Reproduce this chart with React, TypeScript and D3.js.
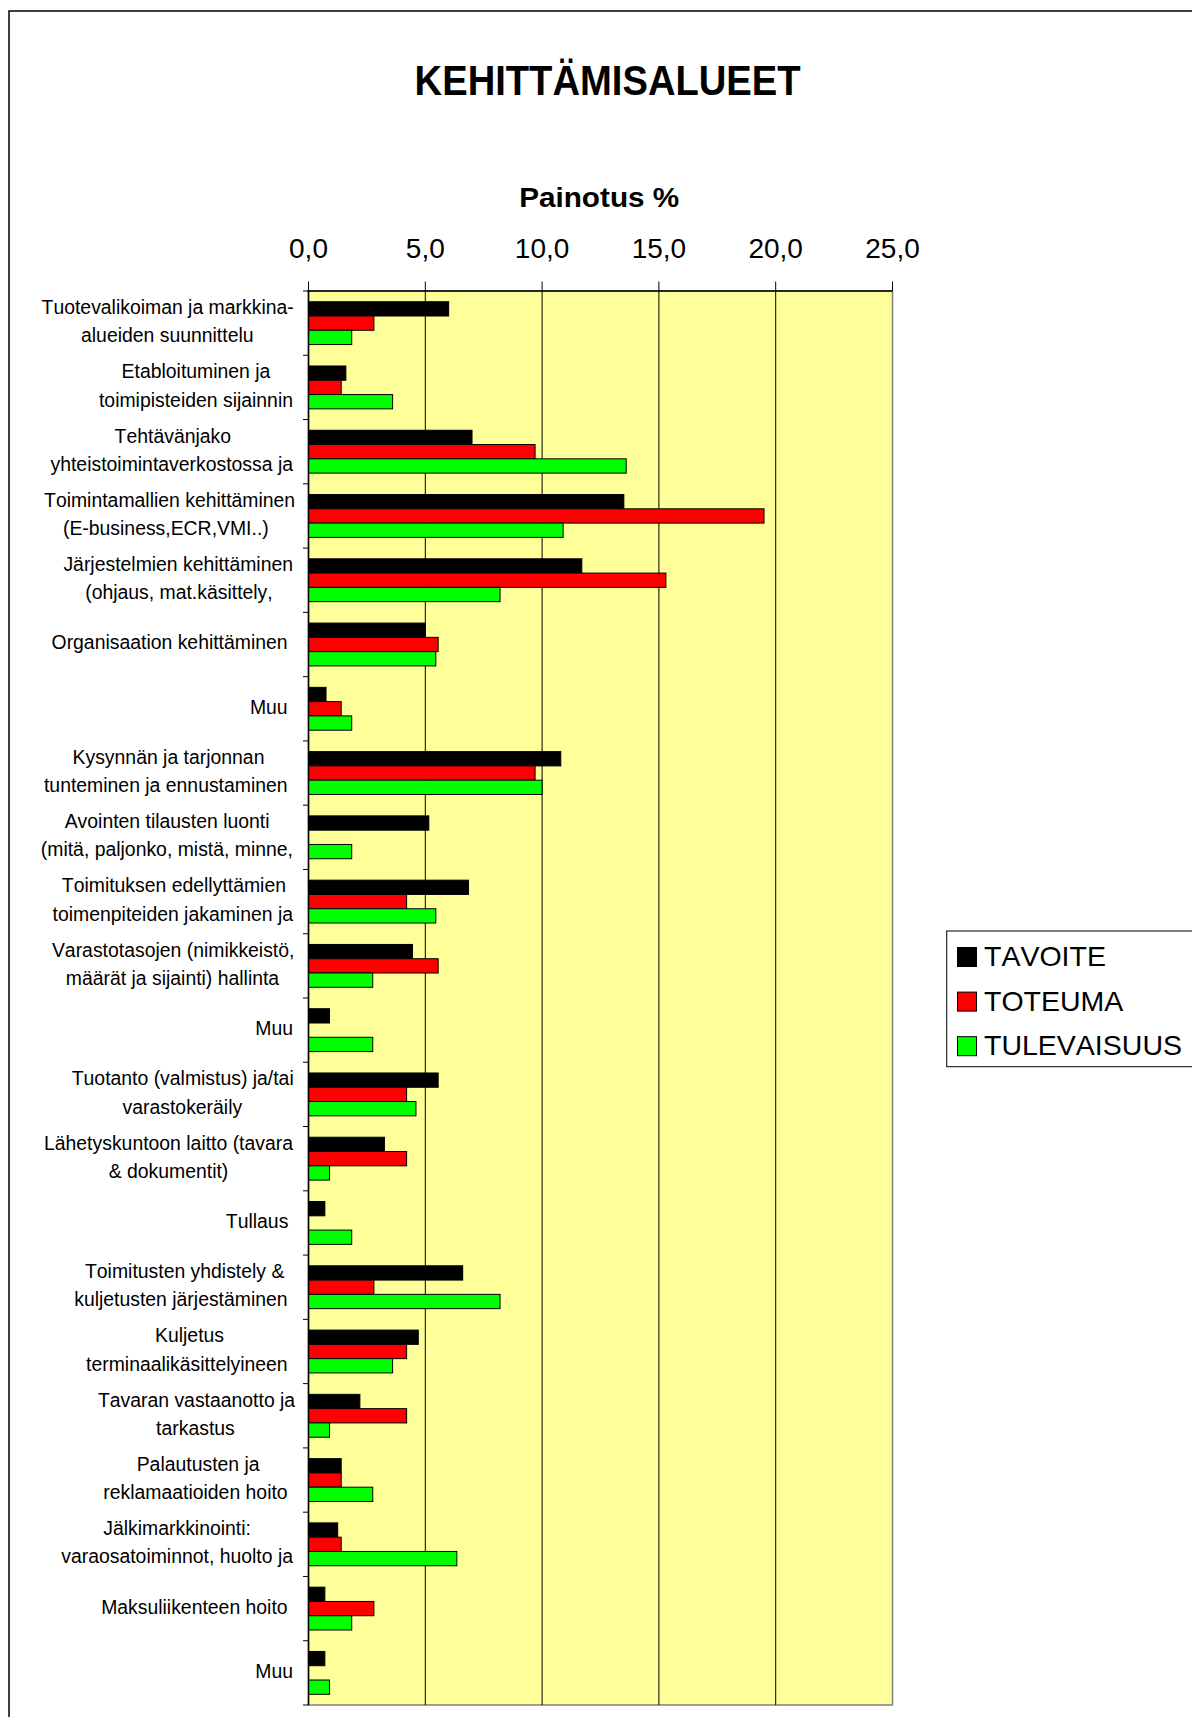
import React, { useMemo } from "react";
import * as d3 from "d3";

const categories: string[] = [
  "Tuotevalikoiman ja markkina-\nalueiden suunnittelu",
  "Etabloituminen ja\ntoimipisteiden sijainnin",
  "Tehtävänjako\nyhteistoimintaverkostossa ja",
  "Toimintamallien kehittäminen\n(E-business,ECR,VMI..) ",
  "Järjestelmien kehittäminen\n(ohjaus, mat.käsittely,",
  "Organisaation kehittäminen ",
  "Muu ",
  "Kysynnän ja tarjonnan\ntunteminen ja ennustaminen ",
  "Avointen tilausten luonti\n(mitä, paljonko, mistä, minne,",
  "Toimituksen edellyttämien\ntoimenpiteiden jakaminen ja",
  "Varastotasojen (nimikkeistö,\nmäärät ja sijainti) hallinta",
  "Muu",
  "Tuotanto (valmistus) ja/tai\nvarastokeräily",
  "Lähetyskuntoon laitto (tavara\n& dokumentit)",
  "Tullaus ",
  "Toimitusten yhdistely &\nkuljetusten järjestäminen ",
  "Kuljetus\nterminaalikäsittelyineen ",
  "Tavaran vastaanotto ja\ntarkastus",
  "Palautusten ja\nreklamaatioiden hoito ",
  "Jälkimarkkinointi:\nvaraosatoiminnot, huolto ja",
  "Maksuliikenteen hoito ",
  "Muu",
];

const tavoite: number[] = [6.0, 1.6, 7.0, 13.5, 11.7, 5.0, 0.75, 10.8, 5.15, 6.85, 4.45, 0.9, 5.55, 3.25, 0.7, 6.6, 4.7, 2.2, 1.4, 1.25, 0.7, 0.7];
const toteuma: number[] = [2.8, 1.4, 9.7, 19.5, 15.3, 5.55, 1.4, 9.7, 0, 4.2, 5.55, 0, 4.2, 4.2, 0, 2.8, 4.2, 4.2, 1.4, 1.4, 2.8, 0];
const tulevaisuus: number[] = [1.85, 3.6, 13.6, 10.9, 8.2, 5.45, 1.85, 10.0, 1.85, 5.45, 2.75, 2.75, 4.6, 0.9, 1.85, 8.2, 3.6, 0.9, 2.75, 6.35, 1.85, 0.9];

const seriesNames: string[] = ["TAVOITE", "TOTEUMA", "TULEVAISUUS"];
const seriesColors: string[] = ["#000000", "#FF0000", "#00FF00"];
const xTicks: number[] = [0, 5, 10, 15, 20, 25];

const title = "KEHITTÄMISALUEET";
const axisTitle = "Painotus %";

const FONT = "'Liberation Sans', Arial, sans-serif";

export default function App() {
  const W = 1192;
  const H = 1717;
  const plotLeft = 308.5;
  const plotRight = 892.5;
  const plotTop = 291;
  const plotBottom = 1705;

  const x = d3.scaleLinear().domain([0, 25]).range([plotLeft, plotRight]);
  const y = d3
    .scaleBand<number>()
    .domain(categories.map((_, i) => i))
    .range([plotTop, plotBottom])
    .paddingInner(0)
    .paddingOuter(0);
  const ys = d3
    .scaleBand<number>()
    .domain([0, 1, 2])
    .range([0, y.bandwidth()])
    .paddingInner(0)
    .paddingOuter(0.75);

  const seriesValues = [tavoite, toteuma, tulevaisuus];

  const labelFs = 19.4;
  const lineH = 28.3;
  const labelRight = 293;

  const measure = useMemo(() => {
    const c = document.createElement("canvas");
    const ctx = c.getContext("2d")!;
    ctx.font = `${labelFs}px 'Liberation Sans'`;
    return (s: string) => ctx.measureText(s).width;
  }, []);

  const boundaries = d3.range(categories.length + 1).map((i) =>
    i < categories.length ? (y(i) as number) : plotBottom
  );

  return (
    <svg
      width={W}
      height={H}
      style={{ position: "absolute", left: 0, top: 0, background: "#fff", fontKerning: "none" }}
      fontFamily={FONT}
    >
      <rect x={0} y={0} width={W} height={H} fill="#fff" />
      {/* outer frame */}
      <rect x={9} y={11} width={1400} height={2000} fill="none" stroke="#000" strokeWidth={1.5} />

      {/* title */}
      <text
        x={607.6}
        y={95}
        textAnchor="middle"
        fontSize={42}
        fontWeight="bold"
        textLength={386}
        lengthAdjust="spacingAndGlyphs"
      >
        {title}
      </text>
      <text
        x={599.2}
        y={206.5}
        textAnchor="middle"
        fontSize={28}
        fontWeight="bold"
        textLength={160}
        lengthAdjust="spacingAndGlyphs"
      >
        {axisTitle}
      </text>

      {/* plot area */}
      <rect
        x={plotLeft}
        y={plotTop}
        width={plotRight - plotLeft}
        height={plotBottom - plotTop}
        fill="#FFFF99"
        stroke="#808080"
        strokeWidth={1.5}
      />
      {/* gridlines */}
      {xTicks.slice(1, -1).map((t) => (
        <line key={"g" + t} x1={x(t)} x2={x(t)} y1={plotTop} y2={plotBottom} stroke="#000" strokeWidth={1} />
      ))}
      {/* top axis */}
      <line x1={plotLeft - 1} x2={plotRight} y1={plotTop} y2={plotTop} stroke="#000" strokeWidth={1.5} />
      {xTicks.map((t) => (
        <g key={"t" + t}>
          <line x1={x(t)} x2={x(t)} y1={plotTop - 9.5} y2={plotTop} stroke="#000" strokeWidth={1} />
          <text x={x(t)} y={258} textAnchor="middle" fontSize={28}>
            {d3.format(".1f")(t).replace(".", ",")}
          </text>
        </g>
      ))}

      {/* bars */}
      {categories.map((_, i) =>
        seriesValues.map((vals, s) =>
          vals[i] > 0 ? (
            <rect
              key={`b${i}-${s}`}
              x={x(0)}
              y={(y(i) as number) + (ys(s) as number)}
              width={x(vals[i]) - x(0)}
              height={ys.bandwidth()}
              fill={seriesColors[s]}
              stroke="#000"
              strokeWidth={1}
            />
          ) : null
        )
      )}

      {/* left axis */}
      <line x1={plotLeft} x2={plotLeft} y1={plotTop} y2={plotBottom} stroke="#000" strokeWidth={1.5} />
      {boundaries.map((b, i) => (
        <line key={"lt" + i} x1={plotLeft - 5.5} x2={plotLeft} y1={b} y2={b} stroke="#000" strokeWidth={1} />
      ))}

      {/* category labels */}
      {categories.map((c, i) => {
        const lines = c.split("\n");
        const bw = Math.max(...lines.map((l) => measure(l)));
        const cx = labelRight - bw / 2;
        const cy = (y(i) as number) + y.bandwidth() / 2;
        return (
          <g key={"l" + i}>
            {lines.map((l, k) => {
              const lw = measure(l);
              const off = (k - (lines.length - 1) / 2) * lineH;
              return (
                <text
                  key={k}
                  x={cx - lw / 2}
                  y={cy + off + 0.35 * labelFs - 1.8}
                  fontSize={labelFs}
                  style={{ whiteSpace: "pre" }}
                >
                  {l}
                </text>
              );
            })}
          </g>
        );
      })}

      {/* legend */}
      <rect x={946.7} y={931} width={400} height={135.7} fill="#fff" stroke="#000" strokeWidth={1} />
      {seriesNames.map((n, s) => (
        <g key={"lg" + s}>
          <rect
            x={957.5}
            y={947.5 + s * 44.6}
            width={19}
            height={19}
            fill={seriesColors[s]}
            stroke="#000"
            strokeWidth={1}
          />
          <text x={984} y={966 + s * 44.6} fontSize={28.5}>
            {n}
          </text>
        </g>
      ))}
    </svg>
  );
}
